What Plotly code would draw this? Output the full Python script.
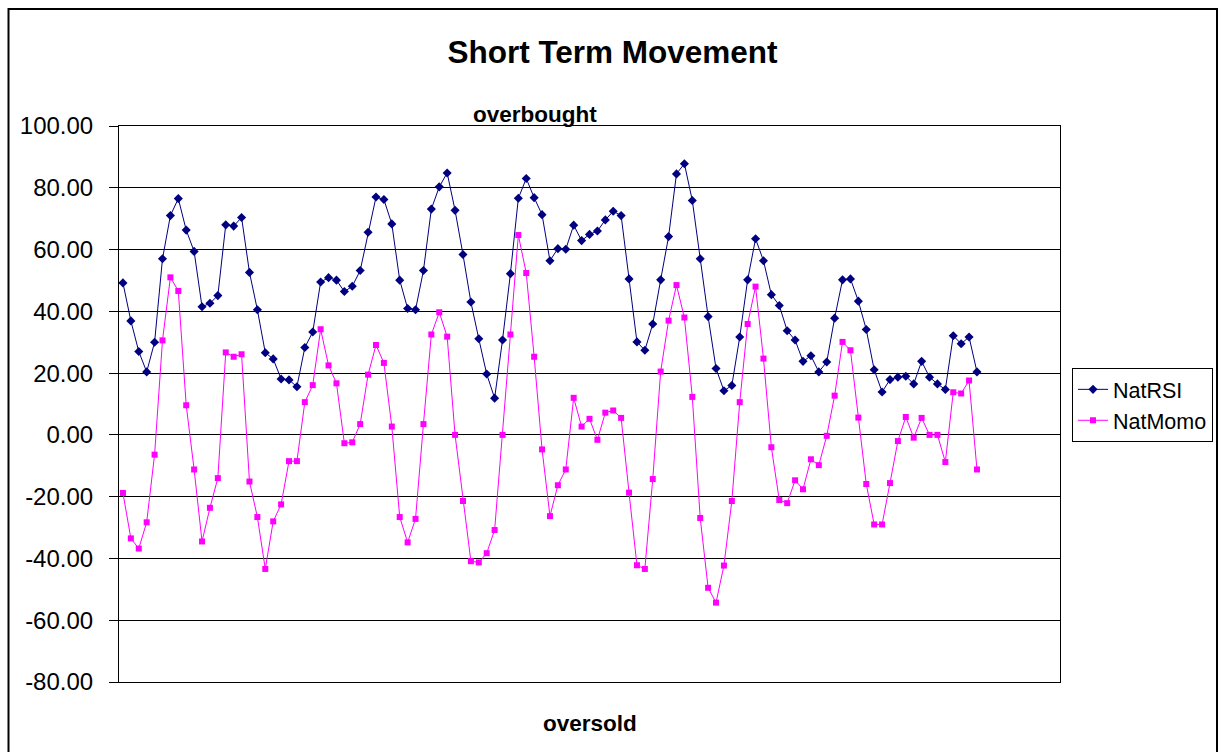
import plotly.graph_objects as go

# ---- data ----
nat_rsi = [49.2, 36.9, 27.0, 20.4, 30.0, 57.0, 71.0, 76.5, 66.3, 59.4,
           41.5, 42.6, 45.1, 68.0, 67.6, 70.4, 52.6, 40.5, 26.6, 24.6,
           18.1, 17.8, 15.6, 28.3, 33.3, 49.5, 50.9, 50.1, 46.4, 48.1,
           53.2, 65.6, 77.0, 76.2, 68.3, 50.1, 40.9, 40.5, 53.2, 73.1,
           80.3, 84.8, 72.7, 58.4, 43.0, 31.1, 19.7, 11.9, 30.7, 52.2,
           76.6, 83.0, 76.8, 71.3, 56.4, 60.3, 60.1, 67.9, 62.9, 64.9,
           66.0, 69.6, 72.4, 71.0, 50.5, 30.1, 27.4, 35.9, 50.2, 64.2,
           84.5, 87.8, 75.9, 57.0, 38.3, 21.5, 14.3, 16.0, 31.7, 50.2,
           63.5, 56.4, 45.4, 41.9, 33.7, 30.7, 23.8, 25.6, 20.4, 23.6,
           37.8, 50.2, 50.5, 43.3, 34.1, 21.1, 13.9, 17.9, 18.7, 19.0,
           16.5, 23.8, 18.7, 16.5, 14.7, 32.1, 29.5, 31.7, 20.4]

nat_momo = [-18.8, -33.5, -36.8, -28.3, -6.4, 30.6, 51.0, 46.6, 9.6, -11.2,
            -34.5, -23.6, -14.0, 26.7, 25.3, 26.1, -15.1, -26.6, -43.4, -28.0,
            -22.5, -8.5, -8.5, 10.6, 16.1, 34.2, 22.5, 16.7, -2.7, -2.4,
            3.5, 19.5, 29.1, 23.3, 2.7, -26.6, -34.8, -27.2, 3.5, 32.5,
            39.7, 31.8, 0.0, -21.4, -40.9, -41.3, -38.3, -30.8, 0.0, 32.5,
            64.7, 52.4, 25.3, -4.7, -26.3, -16.3, -11.2, 12.0, 2.7, 5.2,
            -1.6, 7.2, 7.9, 5.5, -18.7, -42.2, -43.4, -14.3, 20.5, 37.0,
            48.5, 38.0, 12.3, -26.9, -49.5, -54.3, -42.3, -21.4, 10.6, 35.9,
            48.0, 24.7, -4.0, -21.1, -22.1, -14.7, -17.6, -7.9, -9.8, -0.3,
            12.7, 30.1, 27.4, 5.6, -15.9, -29.0, -29.0, -15.6, -2.0, 5.8,
            -0.9, 5.5, 0.0, 0.0, -8.8, 13.8, 13.4, 17.6, -11.2]

n_categories = 119  # category slots on the axis (trailing ones are empty)
periods = list(range(len(nat_rsi)))

y_tick_values = [-80, -60, -40, -20, 0, 20, 40, 60, 80, 100]
y_tick_labels = ["-80.00", "-60.00", "-40.00", "-20.00", "0.00",
                 "20.00", "40.00", "60.00", "80.00", "100.00"]

title_text = "Short Term Movement"
top_label = "overbought"
bottom_label = "oversold"

FONT = "Liberation Sans, Arial, sans-serif"

fig = go.Figure()
fig.add_trace(go.Scatter(
    x=periods, y=nat_rsi, mode="lines+markers", name="NatRSI",
    line=dict(color="#000080", width=1),
    marker=dict(symbol="diamond", size=7, color="#000080"),
))
fig.add_trace(go.Scatter(
    x=periods, y=nat_momo, mode="lines+markers", name="NatMomo",
    line=dict(color="#FF00FF", width=1),
    marker=dict(symbol="square", size=6, color="#FF00FF"),
))

W, H = 1219, 752
L, R, T, B = 119, 1060, 126, 682.3
pw, ph = R - L, B - T


def px_x(p):
    return (p - L) / pw


def px_y(p):
    return (B - p) / ph


fig.update_layout(
    width=W, height=H,
    margin=dict(l=L, r=W - R, t=T, b=H - B, pad=0, autoexpand=False),
    paper_bgcolor="white", plot_bgcolor="white",
    font=dict(family=FONT, color="black"),
    title=dict(text="<b>" + title_text + "</b>", x=612.5 / W,
               xanchor="center", y=1 - 52 / H, yanchor="middle",
               font=dict(size=31.5, family=FONT, color="black")),
    showlegend=True,
    legend=dict(x=px_x(1072), y=px_y(368), xanchor="left", yanchor="top",
                bordercolor="black", borderwidth=1, bgcolor="white",
                font=dict(size=21.5, family=FONT, color="black"),
                itemwidth=30, tracegroupgap=0),
    xaxis=dict(range=[-0.5, n_categories - 0.5], showticklabels=False,
               ticks="", showgrid=False, zeroline=False,
               showline=True, linecolor="black", linewidth=1, mirror=True),
    yaxis=dict(range=[-80, 100], tickmode="array", tickvals=y_tick_values,
               ticktext=y_tick_labels,
               showgrid=True, gridcolor="black", gridwidth=1,
               zeroline=False, ticks="outside", ticklen=9, tickcolor="black",
               ticklabelstandoff=11,
               showline=True, linecolor="black", linewidth=1, mirror=True,
               tickfont=dict(size=24, family=FONT, color="black")),
    annotations=[
        dict(text="<b>" + top_label + "</b>", xref="paper", yref="paper",
             x=px_x(535), y=px_y(114), xanchor="center", yanchor="middle",
             showarrow=False, font=dict(size=22.5, family=FONT, color="black")),
        dict(text="<b>" + bottom_label + "</b>", xref="paper", yref="paper",
             x=px_x(590), y=px_y(724), xanchor="center", yanchor="middle",
             showarrow=False, font=dict(size=22.5, family=FONT, color="black")),
    ],
    shapes=[
        dict(type="rect", xref="paper", yref="paper",
             x0=px_x(8.5), x1=px_x(1217), y0=px_y(790), y1=px_y(9),
             line=dict(color="black", width=2), fillcolor="rgba(0,0,0,0)",
             layer="below"),
    ],
)

fig.write_html(
    "out.html",
    config={"displayModeBar": False},
    post_script="document.body.style.margin='0';document.body.style.overflow='hidden';",
)
